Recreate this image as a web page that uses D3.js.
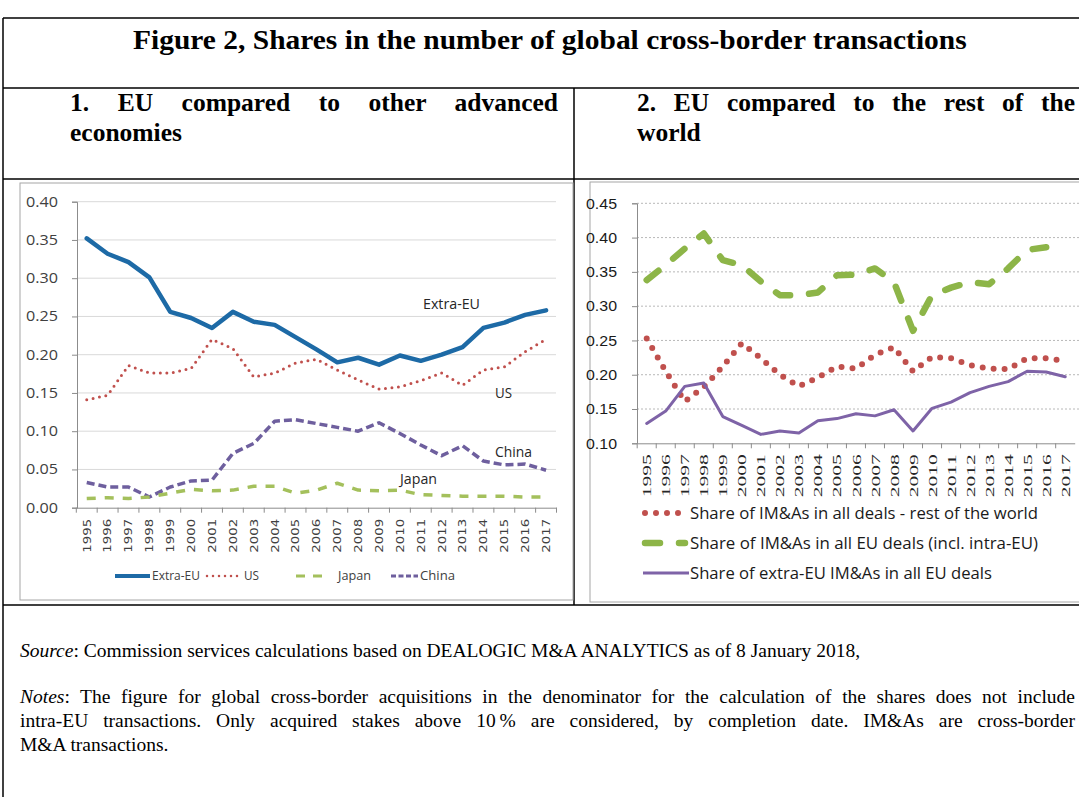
<!DOCTYPE html>
<html>
<head>
<meta charset="utf-8">
<script src="https://cdn.jsdelivr.net/npm/d3@7"></script>
<style>
body { margin: 0; background: #fff; }
</style>
</head>
<body>
<svg id="chart" width="1079" height="797"></svg>
<script>
var years = ["1995", "1996", "1997", "1998", "1999", "2000", "2001", "2002", "2003", "2004", "2005", "2006",
    "2007", "2008", "2009", "2010", "2011", "2012", "2013", "2014", "2015", "2016", "2017"];

// panel 1
var extraEU = [0.352, 0.332, 0.321, 0.301, 0.256, 0.248, 0.235, 0.256, 0.243, 0.239, 0.223, 0.207,
    0.190, 0.196, 0.187, 0.199, 0.192, 0.200, 0.210, 0.235, 0.242, 0.252, 0.258];
var us = [0.141, 0.147, 0.186, 0.176, 0.176, 0.182, 0.220, 0.208, 0.171, 0.176, 0.189, 0.194,
    0.180, 0.167, 0.155, 0.158, 0.166, 0.176, 0.160, 0.180, 0.184, 0.204, 0.220];
var japan = [0.012, 0.013, 0.012, 0.014, 0.019, 0.024, 0.022, 0.023, 0.028, 0.028, 0.019, 0.023,
    0.032, 0.023, 0.022, 0.023, 0.017, 0.016, 0.015, 0.015, 0.015, 0.014, 0.014];
var china = [0.033, 0.027, 0.027, 0.014, 0.027, 0.035, 0.036, 0.071, 0.084, 0.113, 0.115, 0.110,
    0.105, 0.100, 0.111, 0.097, 0.082, 0.068, 0.081, 0.061, 0.056, 0.057, 0.049];
var leftTicks = [0, 0.05, 0.10, 0.15, 0.20, 0.25, 0.30, 0.35, 0.40];

// panel 2
var restWorld = [0.253, 0.205, 0.161, 0.182, 0.212, 0.246, 0.224, 0.200, 0.183, 0.196, 0.212, 0.209,
    0.229, 0.240, 0.205, 0.226, 0.224, 0.214, 0.209, 0.208, 0.224, 0.224, 0.220];
var allEU = [0.338, 0.360, 0.384, 0.406, 0.367, 0.360, 0.336, 0.316, 0.316, 0.320, 0.345, 0.346,
    0.355, 0.335, 0.264, 0.316, 0.327, 0.335, 0.332, 0.355, 0.382, 0.386, null];
var extraShare = [0.129, 0.147, 0.183, 0.188, 0.139, 0.126, 0.113, 0.118, 0.115, 0.133, 0.136, 0.143,
    0.140, 0.149, 0.118, 0.151, 0.160, 0.174, 0.183, 0.190, 0.205, 0.204, 0.197];
var rightTicks = [0.10, 0.15, 0.20, 0.25, 0.30, 0.35, 0.40, 0.45];

var svg = d3.select("#chart");
svg.append("rect").attr("width", 1079).attr("height", 797).attr("fill", "#fff");

// parts: [[text, italic], ...]; width -> justify with word-spacing
function serif_line(g, parts, x, y, size, weight, width) {
    var t = g.append("text")
        .attr("x", x).attr("y", y)
        .style("font-family", "'Liberation Serif', 'Times New Roman', serif")
        .style("font-size", size + "px")
        .style("font-weight", weight);
    var full = "";
    parts.forEach(function (p) {
        t.append("tspan").style("font-style", p[1] ? "italic" : "normal").text(p[0]);
        full += p[0];
    });
    if (width) {
        var natural = t.node().getComputedTextLength();
        var gaps = full.split(/[ \u00a0]/).length - 1;
        t.style("word-spacing", ((width - natural) / gaps) + "px");
    }
    return t;
}

function draw_table() {
    var g = svg.append("g");
    var ln = function (x1, y1, x2, y2) {
        g.append("line").attr("x1", x1).attr("y1", y1).attr("x2", x2).attr("y2", y2)
            .attr("stroke", "#000").attr("stroke-width", 1.5);
    };
    ln(3, 18, 1079, 18);
    ln(3, 18, 3, 797);
    ln(3, 88, 1079, 88);
    ln(3, 179, 1079, 179);
    ln(3, 605, 1079, 605);
    ln(574, 88, 574, 605);

    var title = serif_line(g, [["Figure 2, Shares in the number of global cross-border transactions"]],
        0, 0, 28, "bold", null);
    var tw = title.node().getComputedTextLength();
    title.attr("transform", "translate(133,49) scale(" + (834 / tw) + ",1)");

    serif_line(g, [["1. EU compared to other advanced"]], 70, 111, 25.5, "bold", 488);
    serif_line(g, [["economies"]], 70, 141, 25.5, "bold", null);
    serif_line(g, [["2. EU compared to the rest of the"]], 637, 111, 25.5, "bold", 438);
    serif_line(g, [["world"]], 637, 141, 25.5, "bold", null);

    serif_line(g, [["Source", true], [": Commission services calculations based on DEALOGIC M&A ANALYTICS as of 8 January 2018,"]],
        20, 657, 19.5, "normal", null);
    serif_line(g, [["Notes", true], [": The figure for global cross-border acquisitions in the denominator for the calculation of the shares does not include"]],
        20, 703, 19.5, "normal", 1055);
    serif_line(g, [["intra-EU transactions. Only acquired stakes above 10\u2009% are considered, by completion date. IM&As are cross-border"]],
        20, 727, 19.5, "normal", 1055);
    serif_line(g, [["M&A transactions."]], 20, 751, 19.5, "normal", null);
}

function draw_left() {
    var g = svg.append("g");
    g.append("rect").attr("x", 20).attr("y", 183).attr("width", 553).attr("height", 417)
        .attr("fill", "#fff").attr("stroke", "#a6a6a6");

    var x = d3.scaleBand().domain(years).range([76.3, 556.5]);
    var y = d3.scaleLinear().domain([0, 0.4]).range([507.7, 201.7]);
    var bw = x.bandwidth();

    g.append("g").selectAll("line").data(leftTicks.slice(1)).enter().append("line")
        .attr("x1", 77).attr("x2", 556).attr("y1", function (d) { return y(d); })
        .attr("y2", function (d) { return y(d); })
        .attr("stroke", "#d9d9d9");

    var ya = g.append("g").attr("transform", "translate(77,0)")
        .call(d3.axisLeft(y).tickValues(leftTicks).tickFormat(d3.format(".2f")).tickSize(5).tickPadding(14));
    ya.select(".domain").attr("stroke", "#8c8c8c");
    ya.selectAll(".tick line").attr("stroke", "#8c8c8c");
    ya.selectAll("text").style("font-family", "'Open Sans', sans-serif").style("font-size", "14px")
        .attr("fill", "#404040").attr("textLength", 32).attr("lengthAdjust", "spacingAndGlyphs");

    var xa = g.append("g").attr("transform", "translate(0," + y(0) + ")")
        .call(d3.axisBottom(x).tickSize(0).tickPadding(0));
    xa.select(".domain").attr("stroke", "#8c8c8c");
    xa.selectAll(".tick").append("line").attr("x1", -bw / 2).attr("x2", -bw / 2).attr("y2", 5)
        .attr("stroke", "#8c8c8c");
    xa.append("line").attr("x1", x.range()[1]).attr("x2", x.range()[1]).attr("y2", 5).attr("stroke", "#8c8c8c");
    xa.selectAll("text")
        .attr("transform", "rotate(-90)")
        .attr("x", -11).attr("y", 0).attr("dy", "0.35em")
        .style("text-anchor", "end")
        .style("font-family", "'DejaVu Sans', sans-serif").style("font-size", "11px")
        .attr("fill", "#404040")
        .attr("textLength", 34).attr("lengthAdjust", "spacingAndGlyphs");

    var line = d3.line()
        .defined(function (d) { return d != null; })
        .x(function (d, i) { return x(years[i]) + bw / 2; })
        .y(function (d) { return y(d); });

    var series = [
        {v: china, c: "#6e5f9e", w: 3.5, dash: "8,4", cap: "butt"},
        {v: japan, c: "#a4c05c", w: 3.5, dash: "9,9", cap: "butt"},
        {v: us, c: "#c0504d", w: 3, dash: "0,6.5", cap: "round"},
        {v: extraEU, c: "#1d6aa6", w: 4.5, dash: null, cap: "round"}
    ];
    series.forEach(function (s) {
        g.append("path").attr("d", line(s.v)).attr("fill", "none")
            .attr("stroke", s.c).attr("stroke-width", s.w)
            .attr("stroke-dasharray", s.dash).attr("stroke-linecap", s.cap)
            .attr("stroke-linejoin", "round");
    });

    var lab = function (t, lx, ly, w) {
        g.append("text").attr("x", lx).attr("y", ly).text(t)
            .style("font-family", "'Open Sans', sans-serif").style("font-size", "14px")
            .attr("fill", "#262626").attr("textLength", w).attr("lengthAdjust", "spacingAndGlyphs");
    };
    lab("Extra-EU", 423, 309, 57);
    lab("US", 495, 398, 17);
    lab("China", 495, 457, 37);
    lab("Japan", 400, 484, 37);

    // legend
    var ly = 576;
    var leg = [
        {x1: 115, x2: 150, c: "#1d6aa6", w: 4, dash: null, cap: "butt", t: "Extra-EU", tx: 152, tl: 48},
        {x1: 207, x2: 240, c: "#c0504d", w: 2.5, dash: "0,6", cap: "round", t: "US", tx: 244, tl: 15},
        {x1: 296, x2: 323, c: "#a4c05c", w: 3, dash: "9,8", cap: "butt", t: "Japan", tx: 338, tl: 33},
        {x1: 391, x2: 418, c: "#6e5f9e", w: 3, dash: "5,2.5", cap: "butt", t: "China", tx: 420, tl: 35}
    ];
    leg.forEach(function (d) {
        g.append("line").attr("x1", d.x1).attr("x2", d.x2).attr("y1", ly).attr("y2", ly)
            .attr("stroke", d.c).attr("stroke-width", d.w)
            .attr("stroke-dasharray", d.dash).attr("stroke-linecap", d.cap);
        g.append("text").attr("x", d.tx).attr("y", ly + 4).text(d.t)
            .style("font-family", "'Open Sans', sans-serif").style("font-size", "12px")
            .attr("fill", "#404040").attr("textLength", d.tl).attr("lengthAdjust", "spacingAndGlyphs");
    });
}

function draw_right() {
    var g = svg.append("g");
    g.append("rect").attr("x", 590).attr("y", 182).attr("width", 520).attr("height", 420)
        .attr("fill", "#fff").attr("stroke", "#a6a6a6");

    var x = d3.scaleBand().domain(years).range([637.2, 1074.7]);
    var y = d3.scaleLinear().domain([0.10, 0.45]).range([443.3, 203.3]);
    var bw = x.bandwidth();

    g.append("g").selectAll("line").data(rightTicks.slice(1)).enter().append("line")
        .attr("x1", 637).attr("x2", 1079).attr("y1", function (d) { return y(d); })
        .attr("y2", function (d) { return y(d); })
        .attr("stroke", "#b8b8b8").attr("stroke-dasharray", "2,2");

    var ya = g.append("g").attr("transform", "translate(637,0)")
        .call(d3.axisLeft(y).tickValues(rightTicks).tickFormat(d3.format(".2f")).tickSize(5).tickPadding(15));
    ya.select(".domain").attr("stroke", "#8c8c8c");
    ya.selectAll(".tick line").attr("stroke", "#8c8c8c");
    ya.selectAll("text").style("font-family", "'Liberation Sans', Arimo, sans-serif").style("font-size", "15px")
        .attr("fill", "#1a1a1a").attr("textLength", 31).attr("lengthAdjust", "spacingAndGlyphs");

    var xa = g.append("g").attr("transform", "translate(0," + y(0.10) + ")")
        .call(d3.axisBottom(x).tickSize(0).tickPadding(0));
    xa.select(".domain").attr("stroke", "#8c8c8c");
    xa.selectAll(".tick").append("line").attr("x1", -bw / 2).attr("x2", -bw / 2).attr("y2", 5)
        .attr("stroke", "#8c8c8c");
    xa.selectAll("text")
        .attr("transform", "rotate(-90)")
        .attr("x", -11).attr("y", 0).attr("dy", "0.35em")
        .style("text-anchor", "end")
        .style("font-family", "'Liberation Serif', serif").style("font-size", "13px")
        .attr("fill", "#262626")
        .attr("textLength", 43).attr("lengthAdjust", "spacingAndGlyphs");

    var line = d3.line()
        .defined(function (d) { return d != null; })
        .x(function (d, i) { return x(years[i]) + bw / 2; })
        .y(function (d) { return y(d); });

    var series = [
        {v: allEU, c: "#8db548", w: 6.5, dash: "15,19", cap: "round"},
        {v: restWorld, c: "#c0504d", w: 6, dash: "0,11", cap: "round"},
        {v: extraShare, c: "#7e63a7", w: 3, dash: null, cap: "round"}
    ];
    series.forEach(function (s) {
        g.append("path").attr("d", line(s.v)).attr("fill", "none")
            .attr("stroke", s.c).attr("stroke-width", s.w)
            .attr("stroke-dasharray", s.dash).attr("stroke-linecap", s.cap)
            .attr("stroke-linejoin", "round");
    });

    var leg = [
        {y: 513, c: "#c0504d", w: 6, dash: "0,11", cap: "round", x1: 645, x2: 680,
            t: "Share of IM&As in all deals - rest of the world", tl: 348},
        {y: 543, c: "#8db548", w: 6.5, dash: "15,19", cap: "round", x1: 645, x2: 685,
            t: "Share of IM&As in all EU deals (incl. intra-EU)", tl: 348},
        {y: 573, c: "#7e63a7", w: 3, dash: null, cap: "butt", x1: 643, x2: 689,
            t: "Share of extra-EU IM&As in all EU deals", tl: 302}
    ];
    leg.forEach(function (d) {
        g.append("line").attr("x1", d.x1).attr("x2", d.x2).attr("y1", d.y).attr("y2", d.y)
            .attr("stroke", d.c).attr("stroke-width", d.w)
            .attr("stroke-dasharray", d.dash).attr("stroke-linecap", d.cap);
        g.append("text").attr("x", 690).attr("y", d.y + 6).text(d.t)
            .style("font-family", "'Open Sans', sans-serif").style("font-size", "17px")
            .attr("fill", "#1a1a1a")
            .attr("textLength", d.tl).attr("lengthAdjust", "spacingAndGlyphs");
    });
}

draw_table();
draw_left();
draw_right();
</script>
</body>
</html>
